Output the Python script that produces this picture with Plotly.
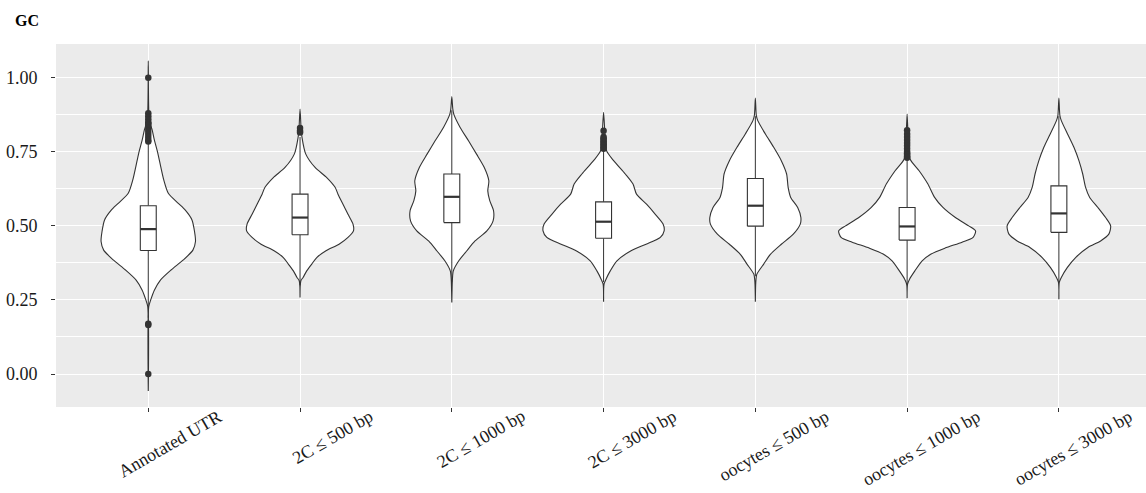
import plotly.graph_objects as go

# ---------------- data ----------------
categories = ["Annotated UTR", "2C \u2264 500 bp", "2C \u2264 1000 bp", "2C \u2264 3000 bp",
              "oocytes \u2264 500 bp", "oocytes \u2264 1000 bp", "oocytes \u2264 3000 bp"]

y_tick_values = [0.0, 0.25, 0.5, 0.75, 1.0]
y_tick_labels = ["0.00", "0.25", "0.50", "0.75", "1.00"]
y_minor_values = [0.125, 0.375, 0.625, 0.875]

# violin outlines: GC level (top -> bottom) and half-width in category units
utr_gc = [1.057, 0.857, 0.823, 0.790, 0.745, 0.700, 0.655, 0.610, 0.576, 0.553, 0.520, 0.480, 0.447,
          0.418, 0.385, 0.351, 0.317, 0.283, 0.250, 0.227, -0.057]
utr_w = [0.0, 0.0066, 0.026, 0.040, 0.063, 0.082, 0.102, 0.132, 0.198, 0.244, 0.288, 0.305, 0.311,
         0.294, 0.231, 0.150, 0.080, 0.040, 0.016, 0.003, 0.0]

c500_gc = [0.894, 0.830, 0.798, 0.742, 0.697, 0.663, 0.630, 0.607, 0.573, 0.539, 0.506, 0.483, 0.461,
           0.438, 0.416, 0.393, 0.371, 0.348, 0.326, 0.314, 0.258]
c500_w = [0.0, 0.0066, 0.013, 0.038, 0.099, 0.176, 0.231, 0.250, 0.283, 0.316, 0.349, 0.352, 0.316,
          0.257, 0.171, 0.110, 0.077, 0.044, 0.020, 0.005, 0.0]

c1000_gc = [0.936, 0.894, 0.877, 0.832, 0.787, 0.742, 0.697, 0.652, 0.618, 0.585, 0.551, 0.517, 0.483,
            0.449, 0.416, 0.382, 0.348, 0.320, 0.241]
c1000_w = [0.0, 0.0066, 0.013, 0.055, 0.110, 0.163, 0.214, 0.244, 0.237, 0.250, 0.275, 0.272, 0.231,
           0.153, 0.099, 0.046, 0.010, 0.004, 0.0]

c3000_gc = [0.883, 0.800, 0.753, 0.720, 0.675, 0.641, 0.607, 0.573, 0.539, 0.506, 0.483, 0.461, 0.438,
            0.416, 0.382, 0.348, 0.320, 0.303, 0.244]
c3000_w = [0.0, 0.010, 0.020, 0.066, 0.143, 0.194, 0.217, 0.283, 0.341, 0.392, 0.399, 0.374, 0.280,
           0.181, 0.088, 0.044, 0.016, 0.003, 0.0]

o500_gc = [0.931, 0.872, 0.855, 0.810, 0.765, 0.720, 0.675, 0.630, 0.596, 0.562, 0.528, 0.506, 0.472,
           0.438, 0.404, 0.371, 0.337, 0.310, 0.244]
o500_w = [0.0, 0.0066, 0.016, 0.066, 0.121, 0.171, 0.206, 0.216, 0.233, 0.279, 0.300, 0.296, 0.250,
          0.171, 0.099, 0.055, 0.010, 0.003, 0.0]

o1000_gc = [0.877, 0.800, 0.760, 0.725, 0.686, 0.641, 0.596, 0.562, 0.528, 0.500, 0.483, 0.461, 0.445,
            0.425, 0.405, 0.382, 0.348, 0.320, 0.303, 0.256]
o1000_w = [0.0, 0.0066, 0.013, 0.020, 0.079, 0.137, 0.181, 0.236, 0.318, 0.406, 0.451, 0.435, 0.362,
           0.250, 0.158, 0.099, 0.051, 0.016, 0.003, 0.0]

o3000_gc = [0.931, 0.872, 0.855, 0.810, 0.765, 0.720, 0.675, 0.630, 0.596, 0.562, 0.528, 0.500, 0.472,
            0.449, 0.427, 0.393, 0.359, 0.326, 0.310, 0.252]
o3000_w = [0.0, 0.0066, 0.016, 0.057, 0.099, 0.132, 0.157, 0.176, 0.203, 0.257, 0.308, 0.341, 0.329,
           0.275, 0.191, 0.110, 0.055, 0.016, 0.003, 0.0]

violin_gc = [utr_gc, c500_gc, c1000_gc, c3000_gc, o500_gc, o1000_gc, o3000_gc]
violin_w = [utr_w, c500_w, c1000_w, c3000_w, o500_w, o1000_w, o3000_w]

# boxplot statistics
box_q1 = [0.417, 0.470, 0.511, 0.458, 0.499, 0.452, 0.478]
box_median = [0.489, 0.528, 0.598, 0.514, 0.568, 0.498, 0.542]
box_q3 = [0.568, 0.607, 0.675, 0.581, 0.660, 0.562, 0.635]
box_low = [0.19, 0.30, 0.31, 0.31, 0.33, 0.30, 0.31]
box_high = [0.78, 0.80, 0.89, 0.755, 0.87, 0.725, 0.87]

outliers = [
    [1.00, 0.88, 0.87, 0.86, 0.85, 0.845, 0.84, 0.83, 0.82, 0.81, 0.80, 0.79, 0.785, 0.17, 0.165, 0.0],
    [0.83, 0.821, 0.815],
    [],
    [0.821, 0.80, 0.795, 0.79, 0.785, 0.78, 0.775, 0.77, 0.765, 0.76],
    [],
    [0.823, 0.81, 0.80, 0.79, 0.78, 0.77, 0.76, 0.75, 0.745, 0.74, 0.735, 0.73],
    [],
]

# ---------------- styling ----------------
DARK = "#333333"
BOX_HALF = 0.0525
FONT = "Liberation Serif"

fig = go.Figure()

for i, cat in enumerate(categories):
    gc = violin_gc[i]
    w = violin_w[i]
    xs = [i + v for v in w] + [i - v for v in reversed(w)]
    ys = list(gc) + list(reversed(gc))
    fig.add_trace(go.Scatter(x=xs, y=ys, mode="lines", fill="toself", fillcolor="white",
                             line=dict(color=DARK, width=1.1, shape="spline", smoothing=0.7),
                             hoverinfo="skip", showlegend=False))
    # whiskers
    fig.add_trace(go.Scatter(x=[i, i, None, i, i],
                             y=[box_low[i], box_q1[i], None, box_q3[i], box_high[i]],
                             mode="lines", line=dict(color=DARK, width=1), hoverinfo="skip",
                             showlegend=False))
    # box
    fig.add_trace(go.Scatter(x=[i - BOX_HALF, i + BOX_HALF, i + BOX_HALF, i - BOX_HALF, i - BOX_HALF],
                             y=[box_q1[i], box_q1[i], box_q3[i], box_q3[i], box_q1[i]],
                             mode="lines", fill="toself", fillcolor="white",
                             line=dict(color=DARK, width=1.1), hoverinfo="skip", showlegend=False))
    # median
    fig.add_trace(go.Scatter(x=[i - BOX_HALF, i + BOX_HALF], y=[box_median[i], box_median[i]],
                             mode="lines", line=dict(color=DARK, width=2.2), hoverinfo="skip",
                             showlegend=False))
    if outliers[i]:
        fig.add_trace(go.Scatter(x=[i] * len(outliers[i]), y=outliers[i], mode="markers",
                                 marker=dict(color=DARK, size=6.5), hoverinfo="skip", showlegend=False))
    # rotated category label
    fig.add_annotation(x=i + 0.52, xref="x", y=0.01, yref="paper", text=cat, showarrow=False,
                       xanchor="right", yanchor="top", textangle=-30,
                       font=dict(family=FONT, size=18, color="#1a1a1a"))

fig.add_annotation(x=-0.039, xref="paper", y=1.065, yref="paper", text="<b>GC</b>", showarrow=False,
                   xanchor="left", yanchor="middle", font=dict(family=FONT, size=16, color="#000000"))

fig.update_layout(
    width=1146, height=493,
    margin=dict(l=56, r=0, t=44, b=86),
    paper_bgcolor="white", plot_bgcolor="#EBEBEB",
    showlegend=False,
    xaxis=dict(range=[-0.608, 6.574], tickmode="array", tickvals=list(range(len(categories))),
               showticklabels=False, ticks="outside", ticklen=4, tickwidth=1, tickcolor=DARK,
               showgrid=True, gridcolor="white", gridwidth=1.1, zeroline=False, showline=False,
               fixedrange=True),
    yaxis=dict(range=[-0.1113, 1.1137], tickmode="array", tickvals=y_tick_values, ticktext=y_tick_labels,
               ticks="outside", ticklen=4, tickwidth=1, tickcolor=DARK, ticklabelstandoff=10,
               tickfont=dict(family=FONT, size=18, color="#1a1a1a"),
               showgrid=True, gridcolor="white", gridwidth=1.1, zeroline=False, showline=False,
               minor=dict(tickmode="array", tickvals=y_minor_values, showgrid=True, gridcolor="white",
                          gridwidth=0.55, ticks=""),
               fixedrange=True),
)

fig.write_html("out.html")
